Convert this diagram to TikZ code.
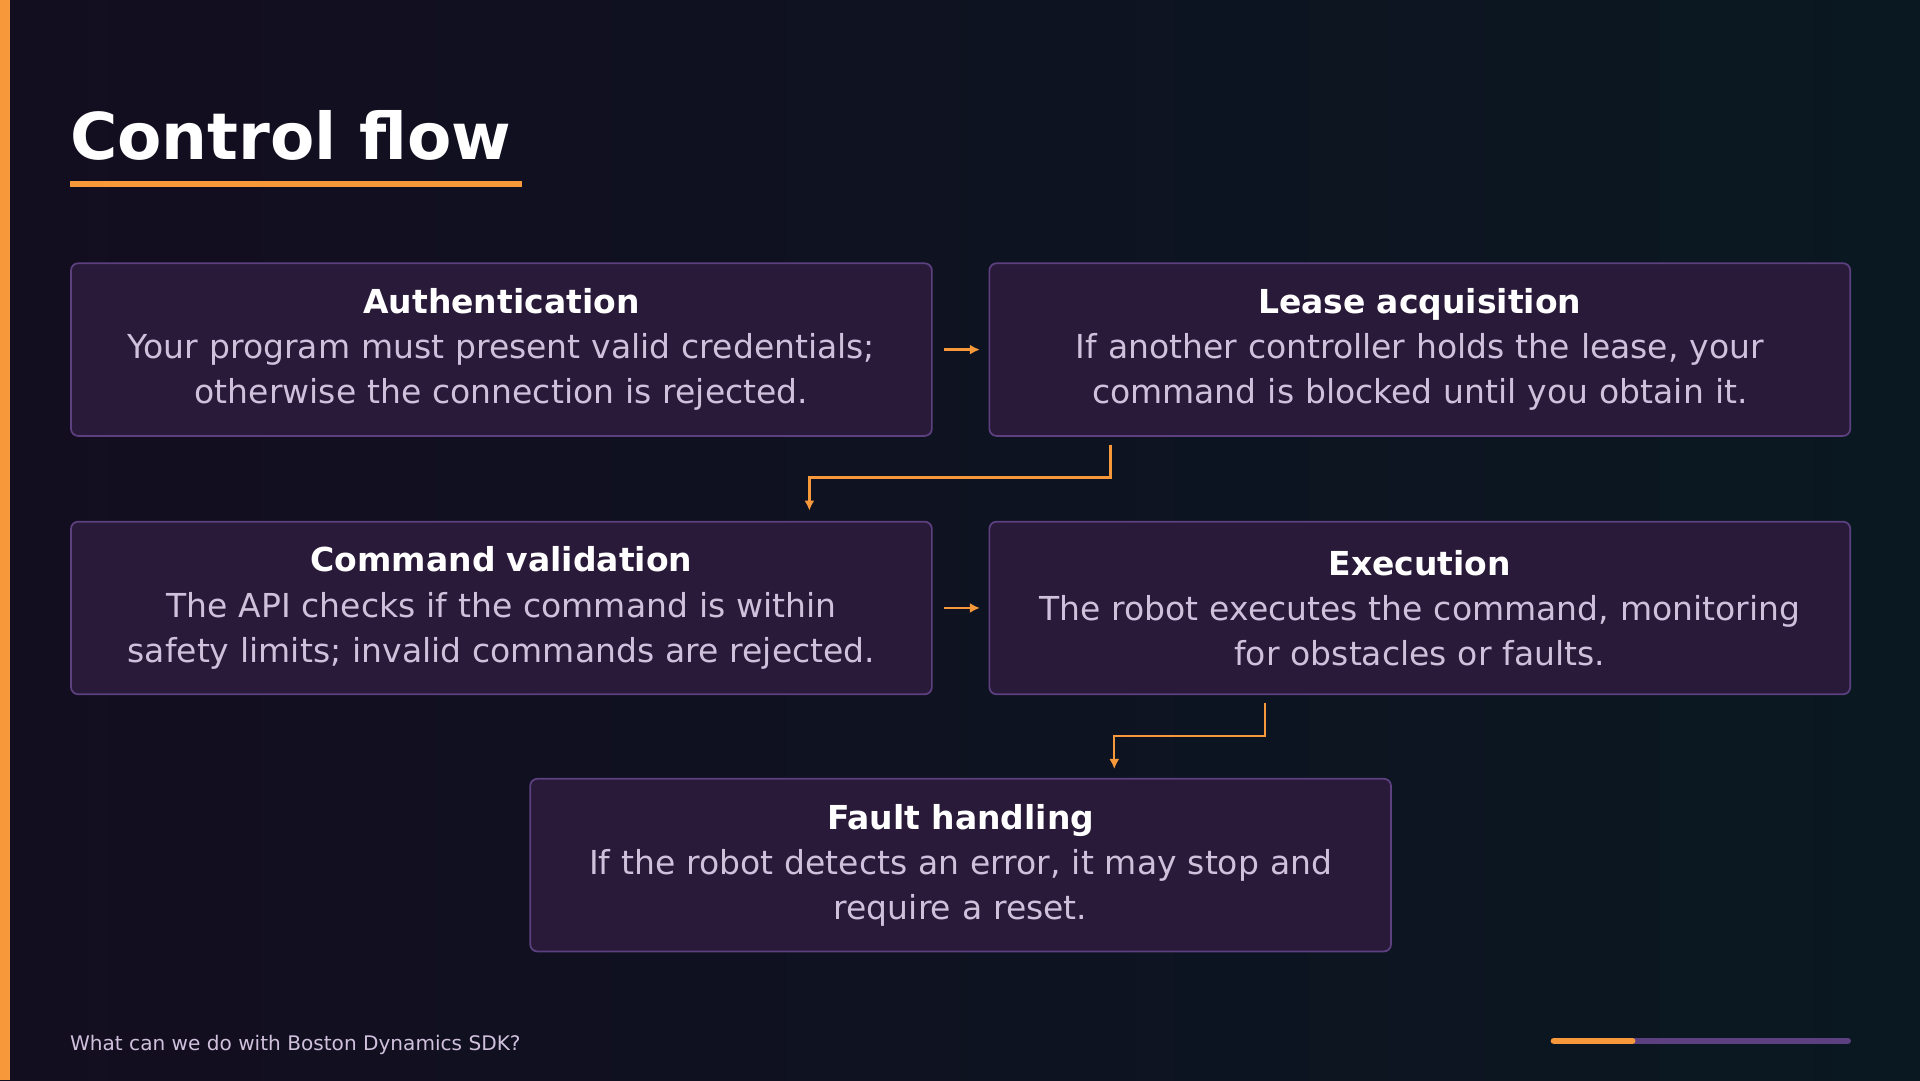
\documentclass[tikz,border=0pt]{standalone}
\usepackage{fontspec}
\setmainfont{DejaVu Sans}
\usetikzlibrary{arrows.meta,positioning}
\definecolor{bgA}{HTML}{130D20}
\definecolor{bgB}{HTML}{0A1821}
\definecolor{boxfill}{HTML}{2A1A3A}
\definecolor{boxline}{HTML}{5C4080}
\definecolor{accent}{HTML}{F7993A}
\definecolor{bodytext}{HTML}{CFC0DC}
\begin{document}
\begin{tikzpicture}[x=0.03cm,y=-0.03cm]
  \tikzset{stage/.style = {draw=boxline, fill=boxfill, line width=1.2pt, rounded corners=5pt,
      minimum width=21.09cm, minimum height=4.23cm, text width=20.6cm, align=center,
      text=bodytext, font=\fontsize{23}{31.5}\selectfont, inner sep=0pt}}
  \tikzset{flow/.style = {draw=accent, line width=1.6pt, -{Latex[length=7pt,width=7pt]}}}

\useasboundingbox (0,0) rectangle (1568,882);
\shade[left color=bgA, right color=bgB] (0,0) rectangle (1568,882);
\fill[accent] (0,0) rectangle (8,882);

% title
\node[anchor=base west, inner sep=0pt, text=white, font=\fontsize{45}{50}\selectfont\bfseries] (title) at (57,130) {Control flow};
\fill[accent] (57,148) rectangle (426,153);

% stages
\node[stage] (auth)  at (409.5,285.5) {{\color{white}\bfseries Authentication}\\Your program must present valid credentials;\\otherwise the connection is rejected.};
\node[stage] (lease) at (1159.5,285.5) {{\color{white}\bfseries Lease acquisition}\\If another controller holds the lease, your\\command is blocked until you obtain it.};
\node[stage] (valid) at (409.5,496.5) {{\color{white}\bfseries Command validation}\\The API checks if the command is within\\safety limits; invalid commands are rejected.};
\node[stage] (exec)  at (1159.5,496.5) {{\color{white}\bfseries Execution}\\The robot executes the command, monitoring\\for obstacles or faults.};
\node[stage] (fault) at (784.5,706.5) {{\color{white}\bfseries Fault handling}\\If the robot detects an error, it may stop and\\require a reset.};

% connectors
\coordinate (l1) at (907,363);
\coordinate (l2) at (661,417);
\coordinate (e1) at (1033,574);
\coordinate (e2) at (910,628);
\draw[flow, shorten <=8pt, shorten >=6pt] (auth) -- (lease);
\draw[flow, shorten <=8pt, shorten >=6pt] (valid) -- (exec);
\draw[flow] (l1) |- (784,390) -| (l2);
\draw[flow] (e1) |- (970,601) -| (e2);

% footer
\node[anchor=base west, inner sep=0pt, text=bodytext, font=\fontsize{14}{16}\selectfont] (foot) at (57,858) {What can we do with Boston Dynamics SDK?};
\draw[line width=4.5pt, line cap=round, draw=boxline] (1333,850) -- (1509,850);
\draw[line width=4.5pt, line cap=round, draw=accent] (1269,850) -- (1333,850);
\end{tikzpicture}
\end{document}
